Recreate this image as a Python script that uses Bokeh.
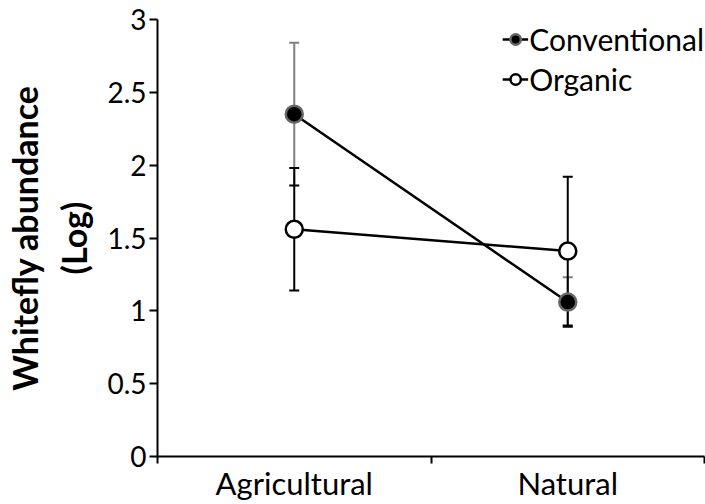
from bokeh.plotting import figure
from bokeh.models import (Range1d, FixedTicker, ColumnDataSource, Whisker, TeeHead,
                          Legend, LegendItem)
from bokeh.embed import file_html
from bokeh.resources import INLINE

categories = ["Agricultural", "Natural"]
conventional = [2.35, 1.06]
conventional_err = [0.49, 0.17]
organic = [1.56, 1.41]
organic_err = [0.42, 0.51]
y_ticks = [0, 0.5, 1, 1.5, 2, 2.5, 3]
y_tick_labels = ["0", "0.5", "1", "1.5", "2", "2.5", "3"]

FONT = "Lato"

xs = [i + 0.5 for i in range(len(categories))]

p = figure(width=705, height=504, output_backend="svg", toolbar_location=None,
           x_range=Range1d(0, len(categories)), y_range=Range1d(0, 3),
           min_border_left=157, min_border_right=1, min_border_top=19,
           min_border_bottom=47)
p.outline_line_color = None
p.xgrid.grid_line_color = None
p.ygrid.grid_line_color = None
p.background_fill_color = "white"
p.border_fill_color = "white"

# axes
p.xaxis.ticker = FixedTicker(ticks=xs, minor_ticks=list(range(len(categories) + 1)))
p.xaxis.major_label_overrides = {x: c for x, c in zip(xs, categories)}
p.xaxis.major_tick_line_color = None
p.xaxis.minor_tick_line_color = "black"
p.xaxis.minor_tick_line_width = 2
p.xaxis.minor_tick_out = 7
p.xaxis.minor_tick_in = 0
p.xaxis.axis_line_width = 2
p.xaxis.major_label_text_font = FONT
p.xaxis.major_label_text_font_size = "31px"
p.xaxis.major_label_text_color = "black"
p.xaxis.major_label_standoff = 0

p.yaxis.ticker = FixedTicker(ticks=y_ticks, minor_ticks=[])
p.yaxis.major_label_overrides = {t: l for t, l in zip(y_ticks, y_tick_labels)}
p.yaxis.major_tick_out = 8
p.yaxis.major_tick_in = 0
p.yaxis.major_tick_line_width = 2
p.yaxis.axis_line_width = 2
p.yaxis.major_label_text_font = FONT
p.yaxis.major_label_text_font_size = "28px"
p.yaxis.major_label_text_color = "black"
p.yaxis.major_label_standoff = 3
p.yaxis.axis_label = "Whitefly abundance\n(Log)"
p.yaxis.axis_label_text_font = FONT
p.yaxis.axis_label_text_font_style = "bold"
p.yaxis.axis_label_text_font_size = "34px"
p.yaxis.axis_label_text_color = "black"
p.yaxis.axis_label_text_line_height = 1.2
p.yaxis.axis_label_standoff = 10

src = ColumnDataSource(dict(
    x=xs,
    conv=conventional,
    conv_lo=[v - e for v, e in zip(conventional, conventional_err)],
    conv_hi=[v + e for v, e in zip(conventional, conventional_err)],
    org=organic,
    org_lo=[v - e for v, e in zip(organic, organic_err)],
    org_hi=[v + e for v, e in zip(organic, organic_err)],
))

w_conv = Whisker(source=src, base="x", lower="conv_lo", upper="conv_hi",
                 line_color="#808080", line_width=2,
                 upper_head=TeeHead(size=10, line_color="#808080", line_width=2),
                 lower_head=TeeHead(size=10, line_color="black", line_width=2))
w_org = Whisker(source=src, base="x", lower="org_lo", upper="org_hi",
                line_color="black", line_width=2,
                upper_head=TeeHead(size=10, line_color="black", line_width=2),
                lower_head=TeeHead(size=10, line_color="black", line_width=2))
p.add_layout(w_conv)
p.add_layout(w_org)

l_conv = p.line("x", "conv", source=src, line_color="black", line_width=2.5)
l_org = p.line("x", "org", source=src, line_color="black", line_width=2.5)
s_conv = p.scatter("x", "conv", source=src, size=17, fill_color="black",
                   line_color="#666666", line_width=2.5)
s_org = p.scatter("x", "org", source=src, size=17, fill_color="white",
                  line_color="black", line_width=2.5)

legend = Legend(items=[
    LegendItem(label="Conventional", renderers=[l_conv, s_conv]),
    LegendItem(label="Organic", renderers=[l_org, s_org]),
], location="top_right")
legend.border_line_color = None
legend.background_fill_alpha = 0
legend.label_text_font = FONT
legend.label_text_font_size = "30px"
legend.label_text_color = "black"
legend.glyph_width = 26
legend.glyph_height = 40
legend.label_height = 40
legend.label_standoff = 1
legend.spacing = 0
legend.padding = 0
legend.margin = 0
p.add_layout(legend)

open("out.html", "w").write(file_html(p, INLINE))
